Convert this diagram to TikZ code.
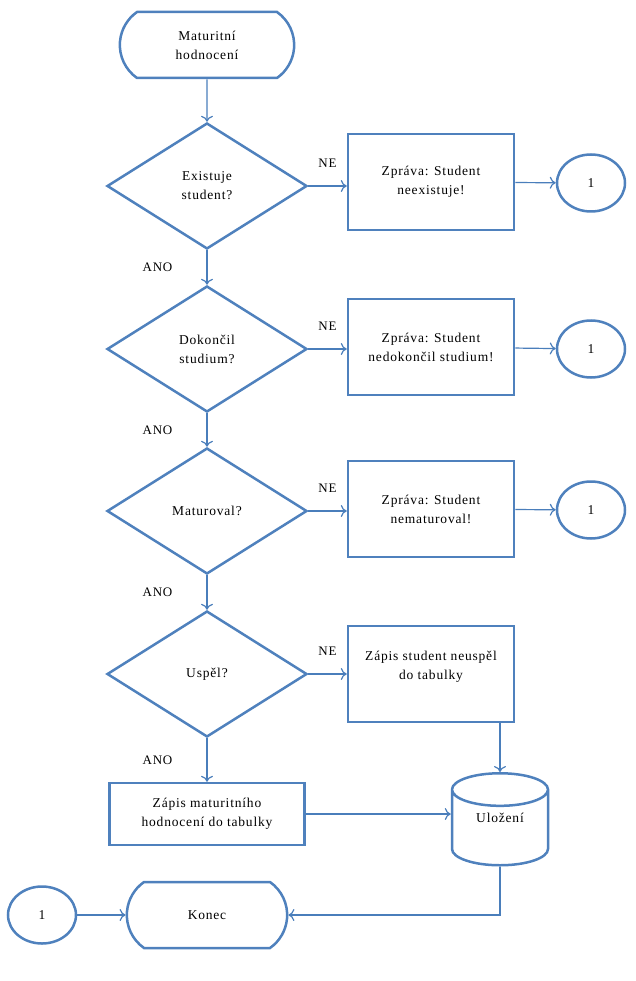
\documentclass[tikz,border=0pt]{standalone}
\usepackage{fontspec}
\setmainfont{Liberation Serif}[LetterSpace=6]
\usetikzlibrary{shapes.geometric,shapes.misc,arrows.meta}
\definecolor{rim}{HTML}{4F81BD}
\definecolor{wire}{HTML}{4A7EBB}

\begin{document}
\begin{tikzpicture}
[x=1pt,y=-1pt,%
  box/.style={draw=rim,line width=2.5pt,align=center,font=\fontsize{13.5}{19}\selectfont},%
  term/.style={box,rounded rectangle,rounded rectangle arc length=110,minimum width=181pt,minimum height=66pt},%
  cond/.style={box,diamond,minimum width=200pt,minimum height=126pt,inner sep=0pt},%
  proc/.style={box,rectangle,minimum width=166pt,minimum height=96pt},%
  conn/.style={box,ellipse,minimum width=68pt,minimum height=57pt},%
  store/.style={box,cylinder,shape border rotate=90,aspect=0.6,minimum width=96pt,minimum height=92pt},%
  lbl/.style={font=\fontsize{13}{15}\selectfont,inner sep=0pt},%
  flow/.style={draw=wire,line width=1.2pt,-{To[length=6pt,width=12pt]}}]
\useasboundingbox (0,0) rectangle (636,981);
\node[term] (start) at (207,45) {Maturitní\\hodnocení};
\node[cond] (q1) at (207,186) {Existuje\\student?};
\node[proc] (m1) at (431,182) {Zpráva: Student\\neexistuje!};
\node[conn] (c1) at (591,183) {1};
\node[cond] (q2) at (207,349) {Dokončil\\studium?};
\node[proc] (m2) at (431,347) {Zpráva: Student\\nedokončil studium!};
\node[conn] (c2) at (591,349) {1};
\node[cond] (q3) at (207,511) {Maturoval?};
\node[proc] (m3) at (431,509) {Zpráva: Student\\nematuroval!};
\node[conn] (c3) at (591,510) {1};
\node[cond] (q4) at (207,674) {Uspěl?};
\node[proc,text depth=18pt] (m4) at (431,674) {Zápis student neuspěl\\do tabulky};
\node[proc,minimum width=195pt,minimum height=62pt] (save) at (207,814) {Zápis maturitního\\hodnocení do tabulky};
\node[store,text depth=26pt] (db) at (500,831) {Uložení};
\node[term,minimum width=167pt] (end) at (207,915) {Konec};
\node[conn] (c4) at (42,915) {1};
\path
(start) edge[flow] (q1)
(q1) edge[flow] node[lbl,left=34pt]{ANO} (q2)
(q2) edge[flow] node[lbl,left=34pt]{ANO} (q3)
(q3) edge[flow] node[lbl,left=34pt]{ANO} (q4)
(q4) edge[flow] node[lbl,left=34pt]{ANO} (save)
(q1.east) edge[flow] node[lbl,above=18pt]{NE} (m1.west |- q1.east)
(q2.east) edge[flow] node[lbl,above=18pt]{NE} (m2.west |- q2.east)
(q3.east) edge[flow] node[lbl,above=18pt]{NE} (m3.west |- q3.east)
(q4.east) edge[flow] node[lbl,above=18pt]{NE} (m4.west |- q4.east)
(m1) edge[flow] (c1)
(m2) edge[flow] (c2)
(m3) edge[flow] (c3)
(db.north |- m4.south) edge[flow] (db.north)
(save.east) edge[flow] (save.east -| db.west)
(c4) edge[flow] (end);
\draw[flow] (db.south) |- (end.east);
\end{tikzpicture}
\end{document}
